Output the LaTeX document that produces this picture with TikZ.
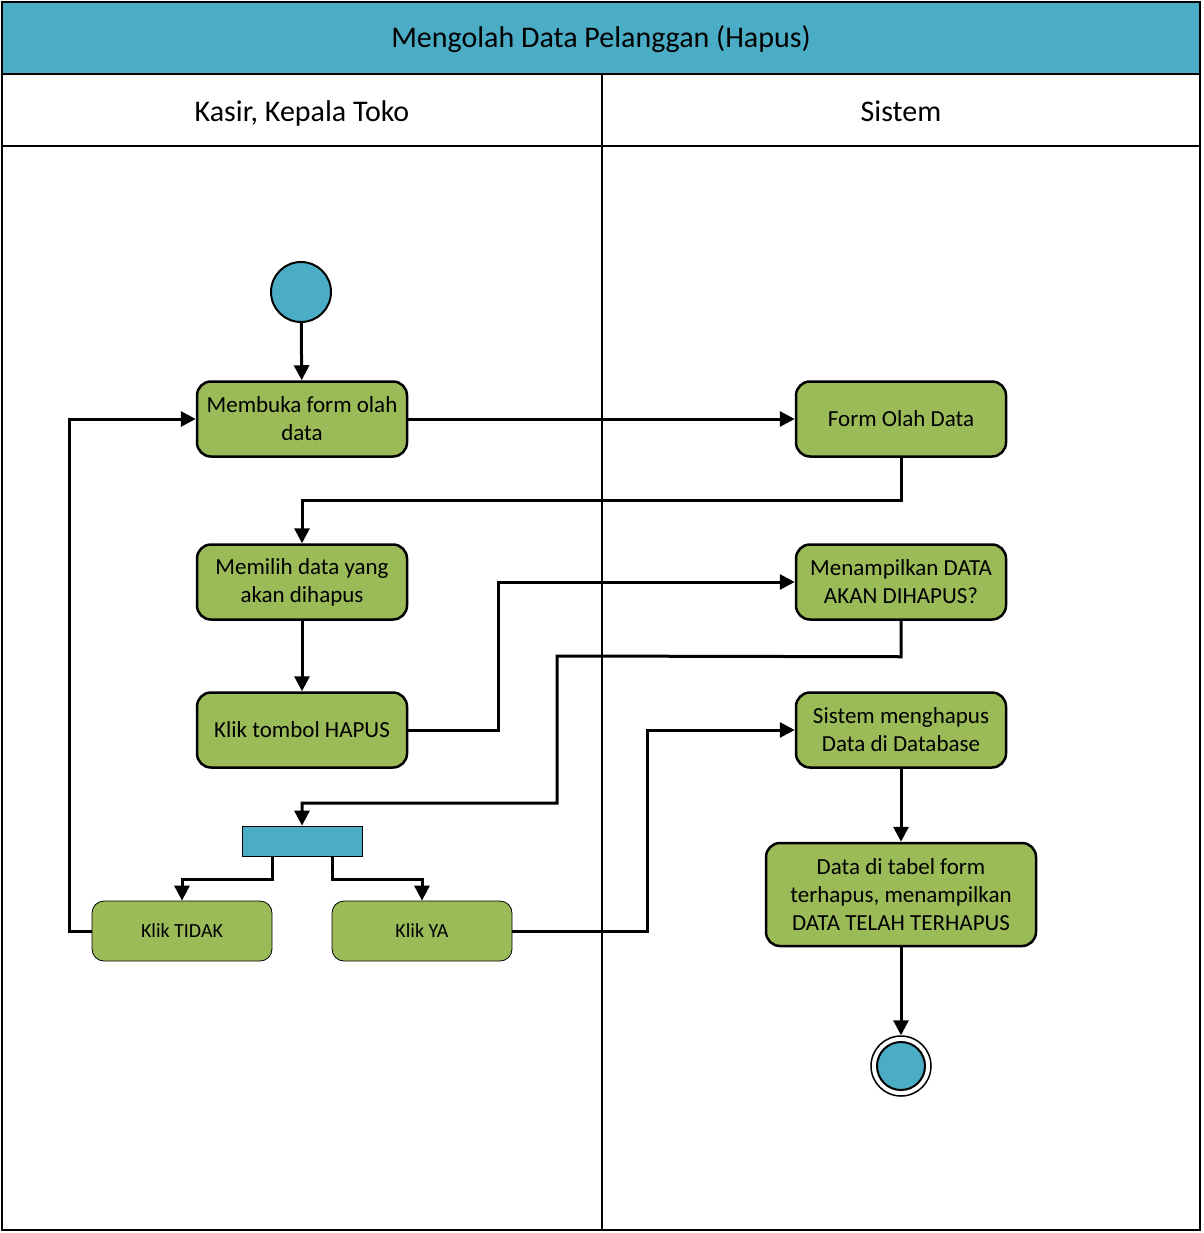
\documentclass[tikz,border=0pt]{standalone}
\usepackage{fontspec}
\setmainfont{Carlito}
\usetikzlibrary{arrows.meta}
\definecolor{hdr}{HTML}{4BACC6}
\definecolor{act}{HTML}{9BBB59}
\begin{document}
\begin{tikzpicture}[x=1pt,y=-1pt,
  actbox/.style={draw=black, line width=2.5pt, fill=act, rounded corners=14pt, minimum width=210pt, minimum height=75pt, align=center, font=\fontsize{23}{28}\selectfont, inner sep=2pt},
  choice/.style={draw=black, line width=0.8pt, fill=act, rounded corners=12pt, minimum width=180pt, minimum height=60pt, font=\fontsize{20}{22}\selectfont},
  flow/.style={line width=3pt, -{Triangle[length=15pt,width=15pt]}},
  lane/.style={line width=2pt},
  hdrtext/.style={font=\fontsize{30}{34}\selectfont, anchor=base}]
\useasboundingbox (0,0) rectangle (1203,1233);
% frame
\draw[lane, fill=hdr] (2,2) rectangle (1200,74);
\draw[lane] (2,74) rectangle (1200,1230);
\draw[lane] (2,146) -- (1200,146);
\draw[lane] (602,74) -- (602,1230);
\node[hdrtext] (title) at (601,48) {Mengolah Data Pelanggan (Hapus)};
\node[hdrtext] (lane1) at (302,122) {Kasir, Kepala Toko};
\node[hdrtext] (lane2) at (901,122) {Sistem};
% nodes
\node[circle, draw=black, line width=2pt, fill=hdr, minimum size=60pt, inner sep=0pt] (start) at (301,292) {};
\node[actbox] (membuka) at (302,419) {Membuka form olah\\data};
\node[actbox] (form) at (901,419) {Form Olah Data};
\node[actbox] (memilih) at (302,582) {Memilih data yang\\akan dihapus};
\node[actbox] (tampil) at (901,582) {Menampilkan DATA\\AKAN DIHAPUS?};
\node[actbox] (hapus) at (302,730) {Klik tombol HAPUS};
\node[actbox] (hapusdb) at (901,730) {Sistem menghapus\\Data di Database};
\node[draw=black, line width=0.8pt, fill=hdr, minimum width=120pt, minimum height=30pt, inner sep=0pt] (bar) at (302,841) {};
\node[choice] (tidak) at (182,931) {Klik TIDAK};
\node[choice] (ya) at (422,931) {Klik YA};
\node[actbox, minimum width=270pt, minimum height=103pt] (tabel) at (901,894.5) {Data di tabel form\\terhapus, menampilkan\\DATA TELAH TERHAPUS};
\node[circle, draw=black, line width=1.5pt, fill=white, minimum size=60pt, inner sep=0pt] (end) at (901,1066) {};
\node[circle, draw=black, line width=2pt, fill=hdr, minimum size=48pt, inner sep=0pt] (endin) at (end) {};
% connectors
\draw[flow] (start) -- (membuka);
\draw[flow] (membuka.east) -- (form.west);
\draw[flow] (form.south) -- ++(0,43) -| (memilih.north);
\draw[flow] (memilih) -- (hapus);
\draw[flow] (hapus.east) -- ++(90,0) |- (tampil.west);
\draw[flow] (tampil.south) -- ++(0,36) -- (557,656) -- (557,803) -| (bar.north);
\draw[flow] ([xshift=-30pt]bar.south) -- ++(0,23) -| (tidak.north);
\draw[flow] ([xshift=30pt]bar.south) -- ++(0,23) -| (ya.north);
\draw[flow] (tidak.west) -- (69,931) |- (membuka.west);
\draw[flow] (ya.east) -- (647,931) |- (hapusdb.west);
\draw[flow] (hapusdb) -- (tabel);
\draw[flow] (tabel) -- (end);
\end{tikzpicture}
\end{document}
